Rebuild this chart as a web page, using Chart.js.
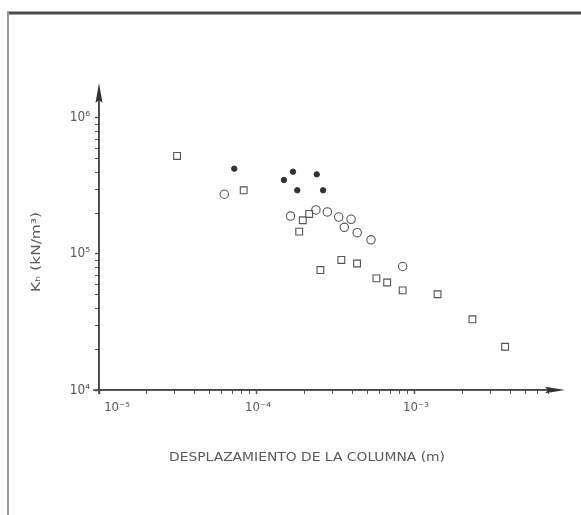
<!DOCTYPE html>
<html><head><meta charset="utf-8">
<script src="https://cdn.jsdelivr.net/npm/chart.js@4/dist/chart.umd.min.js"></script>
<style>html,body{margin:0;padding:0;background:#fff;overflow:hidden}</style>
</head><body>
<canvas id="c" width="581" height="515" style="width:581px;height:515px;display:block"></canvas>
<script>
// ---- data ----
const squareX = [3.12e-5, 8.24e-5, 1.85e-4, 1.95e-4, 2.14e-4, 2.52e-4, 3.42e-4, 4.30e-4, 5.70e-4, 6.67e-4, 8.36e-4, 1.39e-3, 2.31e-3, 3.72e-3];
const squareY = [5.26e5, 2.94e5, 1.46e5, 1.77e5, 1.97e5, 7.62e4, 9.04e4, 8.51e4, 6.62e4, 6.17e4, 5.40e4, 5.06e4, 3.31e4, 2.08e4];
const circleX = [6.21e-5, 1.63e-4, 2.36e-4, 2.79e-4, 3.29e-4, 3.94e-4, 3.57e-4, 4.31e-4, 5.27e-4, 8.36e-4];
const circleY = [2.75e5, 1.90e5, 2.11e5, 2.04e5, 1.87e5, 1.80e5, 1.57e5, 1.435e5, 1.27e5, 8.09e4];
const filledX = [7.18e-5, 1.69e-4, 1.48e-4, 2.39e-4, 1.80e-4, 2.62e-4];
const filledY = [4.24e5, 4.03e5, 3.50e5, 3.85e5, 2.94e5, 2.94e5];
const xTickValues = [1e-5, 1e-4, 1e-3];
const xTickLabels = ['10\u207B\u2075', '10\u207B\u2074', '10\u207B\u00B3'];
const yTickValues = [1e4, 1e5, 1e6];
const yTickLabels = ['10\u2074', '10\u2075', '10\u2076'];
const xTitle = 'DESPLAZAMIENTO DE LA COLUMNA (m)';
const yTitle = 'K\u2095 (kN/m\u00B3)';

const pts = (xs, ys) => xs.map((x, i) => ({x: x, y: ys[i]}));
const FONT = "'Liberation Sans Narrow', 'DejaVu Sans Condensed', sans-serif";
const INK = '#5a5a5a';

function isDecade(v) { const e = Math.log10(v); return Math.abs(e - Math.round(e)) < 1e-6; }
function keepNiceTicks(scale) {
  scale.ticks = scale.ticks.filter(t => {
    const e = Math.floor(Math.log10(t.value) + 1e-9);
    const m = t.value / Math.pow(10, e);
    return Math.abs(m - Math.round(m)) < 1e-6;
  });
}
function labelFor(values, labels) {
  return v => { for (let i = 0; i < values.length; i++) if (Math.abs(Math.log10(v) - Math.log10(values[i])) < 1e-6) return labels[i]; return ''; };
}
function fitText(ctx, text, x, y, width) {
  const w = ctx.measureText(text).width;
  ctx.save(); ctx.translate(x, y); ctx.scale(width / w, 1);
  ctx.fillText(text, 0, 0); ctx.restore();
}

const decor = {
  id: 'decor',
  afterDraw(chart) {
    const ctx = chart.ctx, a = chart.chartArea, xs = chart.scales.x;
    ctx.save();
    // frame
    ctx.strokeStyle = '#4a4a4a'; ctx.lineWidth = 3;
    ctx.beginPath(); ctx.moveTo(7, 13); ctx.lineTo(581, 13); ctx.stroke();
    ctx.strokeStyle = '#9a9a9a'; ctx.lineWidth = 2;
    ctx.beginPath(); ctx.moveTo(8, 12); ctx.lineTo(8, 515); ctx.stroke();
    // axis extensions + arrows
    ctx.strokeStyle = '#444'; ctx.fillStyle = '#333'; ctx.lineWidth = 1.5;
    ctx.beginPath(); ctx.moveTo(a.left - 6, a.bottom); ctx.lineTo(548, a.bottom); ctx.stroke();
    ctx.beginPath(); ctx.moveTo(565, a.bottom); ctx.lineTo(545, a.bottom - 3.2); ctx.lineTo(548, a.bottom); ctx.lineTo(545, a.bottom + 3.2); ctx.closePath(); ctx.fill();
    ctx.beginPath(); ctx.moveTo(a.left, a.bottom + 4); ctx.lineTo(a.left, 100); ctx.stroke();
    ctx.beginPath(); ctx.moveTo(a.left, 83); ctx.lineTo(a.left - 3.5, 103); ctx.lineTo(a.left, 100); ctx.lineTo(a.left + 3.5, 103); ctx.closePath(); ctx.fill();
    // x tick labels (the first one sits right of the origin, as in the source)
    ctx.fillStyle = INK; ctx.textBaseline = 'middle'; ctx.textAlign = 'center';
    ctx.font = '13px ' + FONT;
    xTickValues.forEach((v, i) => {
      const px = xs.getPixelForValue(v) + (i === 0 ? 18 : 1);
      ctx.fillText(xTickLabels[i], px, 408);
    });
    // titles
    ctx.font = '12px ' + FONT;
    fitText(ctx, xTitle, 307, 458, 276);
    ctx.translate(37, 252); ctx.rotate(-Math.PI / 2);
    ctx.font = '13px ' + FONT;
    fitText(ctx, yTitle, 0, 0, 80);
    ctx.restore();
  }
};

new Chart(document.getElementById('c'), {
  type: 'scatter',
  data: {
    datasets: [
      {label: 'squares', data: pts(squareX, squareY), pointStyle: 'rect', pointRadius: 4.8, borderColor: '#555', borderWidth: 1.1, backgroundColor: 'rgba(0,0,0,0)'},
      {label: 'circles', data: pts(circleX, circleY), pointStyle: 'circle', pointRadius: 4.2, borderColor: '#555', borderWidth: 1.1, backgroundColor: 'rgba(0,0,0,0)'},
      {label: 'filled', data: pts(filledX, filledY), pointStyle: 'circle', pointRadius: 2.7, borderColor: '#333', borderWidth: 1, backgroundColor: '#333'}
    ]
  },
  options: {
    responsive: false, animation: false, devicePixelRatio: 1,
    layout: {padding: {top: 90, right: 26, left: 0, bottom: 0}},
    plugins: {legend: {display: false}, tooltip: {enabled: false}},
    scales: {
      x: {
        type: 'logarithmic', position: 'bottom', min: 1e-5, max: 7.7e-3,
        afterBuildTicks: keepNiceTicks,
        afterFit: s => { s.height = 125; },
        border: {display: true, color: '#444', width: 1.5},
        grid: {display: true, drawOnChartArea: false, drawTicks: true, tickLength: 4, tickColor: '#555',
               tickWidth: c => (c.tick && isDecade(c.tick.value)) ? 1.5 : 1},
        ticks: {autoSkip: false, maxRotation: 0, padding: 6, color: INK, font: {family: FONT, size: 13},
                callback: () => ''}
      },
      y: {
        type: 'logarithmic', position: 'left', min: 1e4, max: 1.606e6,
        afterBuildTicks: keepNiceTicks,
        afterFit: s => { s.width = 99; },
        border: {display: true, color: '#444', width: 1.5},
        grid: {display: true, drawOnChartArea: false, drawTicks: true, tickLength: 4, tickColor: '#555',
               tickWidth: c => (c.tick && isDecade(c.tick.value)) ? 1.5 : 1},
        ticks: {autoSkip: false, padding: 5, color: INK, font: {family: FONT, size: 13.5},
                callback: labelFor(yTickValues, yTickLabels)}
      }
    }
  },
  plugins: [decor]
});
</script>
</body></html>
